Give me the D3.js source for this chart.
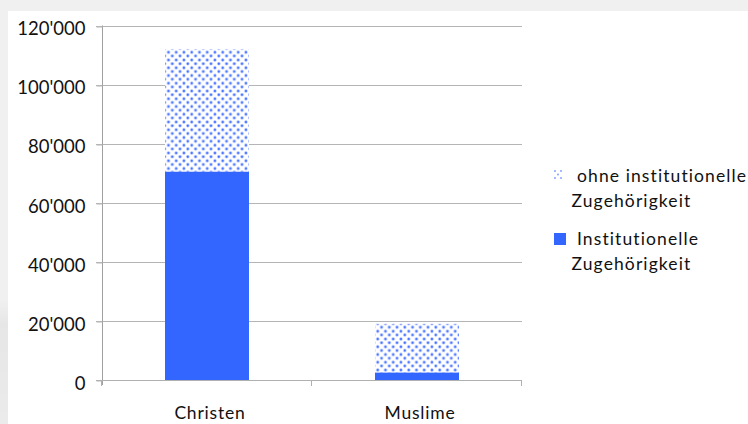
<!DOCTYPE html>
<html>
<head>
<meta charset="utf-8">
<script src="https://cdn.jsdelivr.net/npm/d3@7"></script>
<style>
  html, body { margin: 0; padding: 0; background: #f0f0f0; }
  svg { display: block; }
  text { font-family: Lato, "Open Sans", sans-serif; fill: #111; }
</style>
</head>
<body>
<svg id="chart" width="748" height="424"></svg>
<script>
// Religious affiliation, stacked by institutional membership
const categories = ["Christen", "Muslime"];
const institutional = [70500, 2500];
const nonInstitutional = [41500, 16500];
const yTicks = [0, 20000, 40000, 60000, 80000, 100000, 120000];
const seriesNames = [
  ["ohne institutionelle", "Zugehörigkeit"],
  ["Institutionelle", "Zugehörigkeit"]
];

const W = 748, H = 424;
const svg = d3.select("#chart");
const defs = svg.append("defs");

// soft shading on the left strip
const grad = defs.append("linearGradient").attr("id", "leftShade")
  .attr("x1", 0).attr("y1", 0).attr("x2", 0).attr("y2", 1);
grad.append("stop").attr("offset", "0%").attr("stop-color", "#f0f0f0");
grad.append("stop").attr("offset", "20%").attr("stop-color", "#e6e6e6");
grad.append("stop").attr("offset", "100%").attr("stop-color", "#ebebeb");

// dotted fill for the non-institutional part
const pat = defs.append("pattern").attr("id", "dots")
  .attr("patternUnits", "userSpaceOnUse")
  .attr("width", 7.75).attr("height", 7.75);
pat.append("rect").attr("width", 7.75).attr("height", 7.75).attr("fill", "#ffffff");
[[1.8, 1.8], [5.7, 5.7]].forEach(([cx, cy]) => {
  pat.append("circle").attr("cx", cx).attr("cy", cy).attr("r", 1.7)
    .attr("fill", "#9db5ff");
  pat.append("circle").attr("cx", cx).attr("cy", cy).attr("r", 1.0)
    .attr("fill", "#3f6dff");
});

// panel
svg.append("rect").attr("x", 0).attr("y", 300).attr("width", 8).attr("height", H - 300)
  .attr("fill", "url(#leftShade)");
svg.append("rect").attr("x", 8).attr("y", 11).attr("width", W - 8).attr("height", H - 11)
  .attr("fill", "#ffffff");

const x0 = 102, x1 = 522, yBase = 380, yTop = 25.5;
const x = d3.scaleBand().domain(categories).range([x0, x1])
  .paddingInner(0.6).paddingOuter(0.3);
const y = d3.scaleLinear().domain([0, 120000]).range([yBase, yTop]);

const locale = d3.formatLocale({ decimal: ".", thousands: "'", grouping: [3], currency: ["", ""] });
const fmt = locale.format(",");

// gridlines
svg.append("g").selectAll("line").data(yTicks.filter(d => d > 0)).join("line")
  .attr("x1", 96).attr("x2", x1)
  .attr("y1", d => Math.round(y(d)) + 0.5).attr("y2", d => Math.round(y(d)) + 0.5)
  .attr("stroke", "#b5b5b5").attr("stroke-width", 1);

// y axis
const yAxis = svg.append("g").attr("transform", `translate(${x0 + 0.5},0)`)
  .call(d3.axisLeft(y).tickValues(yTicks).tickFormat(fmt).tickSize(6).tickPadding(11));
yAxis.select(".domain").attr("stroke", "#a0a0a0").attr("d", `M0,${yTop}V${yBase + 5}`);
yAxis.selectAll(".tick line").attr("stroke", "#b5b5b5")
  .attr("transform", d => `translate(0,${Math.round(y(d)) + 0.5 - y(d)})`);
yAxis.selectAll(".tick text")
  .attr("font-family", "Lato, sans-serif").attr("font-size", 18.5).attr("fill", "#0a0a0a")
  .attr("dy", "0.5em");

// bars
const stack = categories.map((c, i) => ({
  cat: c, inst: institutional[i], non: nonInstitutional[i]
}));
svg.append("g").selectAll("rect").data(stack).join("rect")
  .attr("x", d => x(d.cat)).attr("width", x.bandwidth())
  .attr("y", d => y(d.inst + d.non)).attr("height", d => y(d.inst) - y(d.inst + d.non))
  .attr("fill", "url(#dots)");
svg.append("g").selectAll("rect").data(stack).join("rect")
  .attr("x", d => x(d.cat)).attr("width", x.bandwidth())
  .attr("y", d => y(d.inst)).attr("height", d => yBase - y(d.inst))
  .attr("fill", "#3366ff");

// x axis
const xAxisG = svg.append("g");
xAxisG.append("line").attr("x1", 96).attr("x2", x1).attr("y1", yBase + 0.5).attr("y2", yBase + 0.5)
  .attr("stroke", "#b0b0b0");
const step = x.step();
[x0, x0 + step, x1].forEach(px => {
  xAxisG.append("line").attr("x1", Math.round(px) - 0.5).attr("x2", Math.round(px) - 0.5)
    .attr("y1", yBase).attr("y2", yBase + 6).attr("stroke", "#b0b0b0");
});
xAxisG.selectAll("text").data(categories).join("text")
  .attr("x", d => x(d) + x.bandwidth() / 2 + 3).attr("y", 419)
  .attr("text-anchor", "middle").attr("font-size", 17.5).attr("letter-spacing", 0.8)
  .text(d => d);

// legend
const legend = svg.append("g");
[[555, 171], [561, 171], [558, 174.5], [555, 178], [561, 178]].forEach(([cx, cy]) => {
  legend.append("circle").attr("cx", cx).attr("cy", cy).attr("r", 1.1)
    .attr("fill", "#8fa9ff");
});
legend.append("rect").attr("x", 554).attr("y", 233).attr("width", 12).attr("height", 12)
  .attr("fill", "#3366ff");
const legendRows = [
  { text: seriesNames[0][0], x: 577, y: 182 },
  { text: seriesNames[0][1], x: 571.5, y: 206.5 },
  { text: seriesNames[1][0], x: 577, y: 245 },
  { text: seriesNames[1][1], x: 571.5, y: 269.5 }
];
legend.selectAll("text").data(legendRows).join("text")
  .attr("x", d => d.x).attr("y", d => d.y)
  .attr("font-size", 17.5).attr("letter-spacing", 1.1)
  .text(d => d.text);
</script>
</body>
</html>
